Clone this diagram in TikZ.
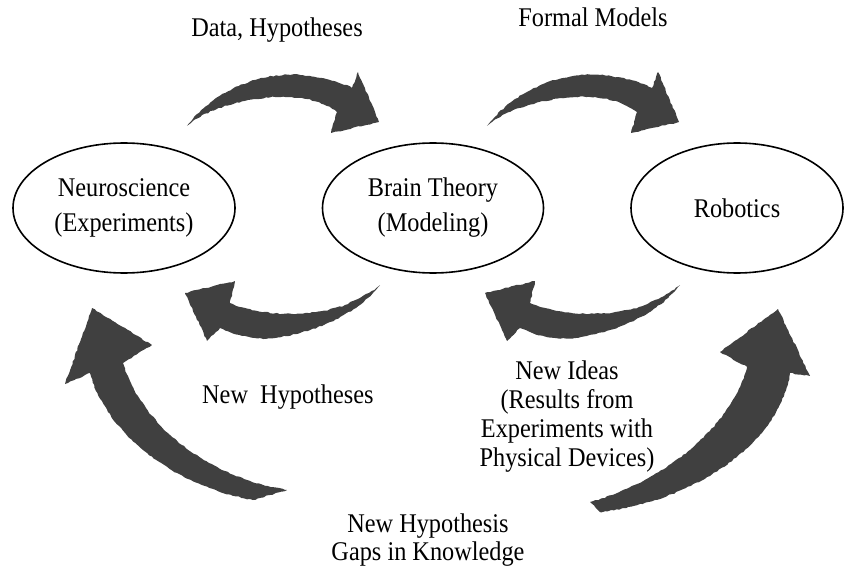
\documentclass[tikz,border=0pt]{standalone}
\usepackage{fontspec}
\setmainfont{Liberation Serif}[FakeStretch=0.9]
\usetikzlibrary{shapes.geometric, decorations.pathmorphing}

\begin{document}
\begin{tikzpicture}[x=1pt, y=-1pt,
    every node/.style = {font=\fontsize{27}{35}\selectfont, inner sep=0pt},
    field/.style = {shape=ellipse, draw, line width=1.6pt, align=center, minimum height=130pt},
    fatarrow/.style = {fill=black!75, draw=none, decorate,
        decoration={random steps, segment length=3pt, amplitude=0.6pt}}]
    \pgfmathsetseed{7}
    \useasboundingbox (0,0) rectangle (845,569);

    % the three fields
    \node[field, minimum width=222pt] (neuro) at (124,208) {Neuroscience\\(Experiments)};
    \node[field, minimum width=221pt] (brain) at (433,208) {Brain Theory\\(Modeling)};
    \node[field, minimum width=212pt] (robot) at (737,208) {Robotics};

    % upper arrows, left to right
    \foreach \shiftx in {0,300}
        \fill[fatarrow, xshift=\shiftx pt] (187,126) .. controls (215,90) and (260,72) .. (300,75)
            .. controls (325,77) and (343,83) .. (352,88) -- (358,72) -- (379,122) -- (331,133)
            -- (337,112) .. controls (320,100) and (300,96) .. (275,97)
            .. controls (240,99) and (205,110) .. (187,126) -- cycle;

    % lower arrows, right to left
    \foreach \shiftx in {0,300}
        \fill[fatarrow, xshift=\shiftx pt] (185,293) -- (235,281) -- (230,303)
            .. controls (260,316) and (310,318) .. (345,305)
            .. controls (360,298) and (372,292) .. (380,285)
            .. controls (365,305) and (330,330) .. (275,338)
            .. controls (255,340) and (235,335) .. (220,328) -- (207,341) -- cycle;

    % big outer arrows
    \fill[fatarrow] (92,308) -- (152,345) -- (123,363)
        .. controls (140,420) and (200,475) .. (287,490) -- (253,500)
        .. controls (170,485) and (105,430) .. (90,373) -- (65,384) -- cycle;
    \fill[fatarrow] (778,309) -- (810,376) -- (790,373)
        .. controls (780,440) and (700,500) .. (600,512) -- (590,502)
        .. controls (670,480) and (735,420) .. (747,367) -- (720,352) -- cycle;

    % labels
    \node[anchor=base] (datahyp) at (277,37) {Data, Hypotheses};
    \node[anchor=base] (formal) at (593,27) {Formal Models};
    \node[anchor=base west] (newhyp) at (202,403) {New\ \ Hypotheses};
    \node[align=center, font=\fontsize{27}{29}\selectfont] (newideas) at (567,417)
        {New Ideas\\(Results from\\Experiments with\\Physical Devices)};
    \node[align=center, font=\fontsize{27}{28}\selectfont, anchor=base] (gaps) at (428,560)
        {New Hypothesis\\Gaps in Knowledge};
\end{tikzpicture}
\end{document}
